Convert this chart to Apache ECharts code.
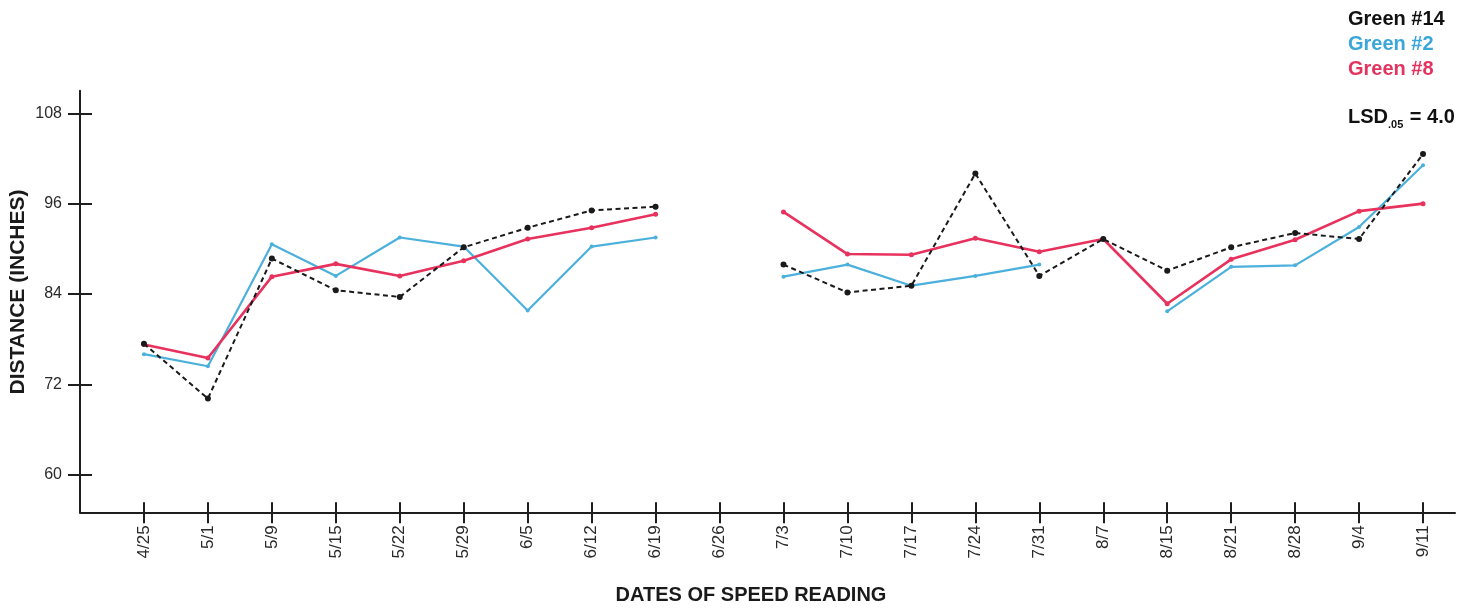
<!DOCTYPE html>
<html>
<head>
<meta charset="utf-8">
<script src="https://cdn.jsdelivr.net/npm/echarts@6/dist/echarts.min.js"></script>
<style>
html,body{margin:0;padding:0;background:#fff;}
#chart{width:1478px;height:610px;}
</style>
</head>
<body>
<div id="chart"></div>
<script>
const dates = ['4/25','5/1','5/9','5/15','5/22','5/29','6/5','6/12','6/19','6/26','7/3','7/10','7/17','7/24','7/31','8/7','8/15','8/21','8/28','9/4','9/11'];
const yTicks = [60, 72, 84, 96, 108];
const seriesNames = ['Green #14', 'Green #2', 'Green #8'];
const green14 = [77.4, 70.1, 88.7, 84.5, 83.6, 90.2, 92.8, 95.1, 95.6, null, 87.9, 84.2, 85.1, 100.0, 86.4, 91.3, 87.1, 90.2, 92.1, 91.3, 102.6];
const green2  = [76.0, 74.4, 90.6, 86.4, 91.5, 90.3, 81.8, 90.3, 91.5, null, 86.3, 87.9, 85.1, 86.4, 87.9, null, 81.7, 87.6, 87.8, 92.9, 101.1];
const green8  = [77.3, 75.5, 86.3, 88.0, 86.4, 88.4, 91.3, 92.8, 94.6, null, 94.9, 89.3, 89.2, 91.4, 89.6, 91.3, 82.7, 88.6, 91.2, 95.0, 96.0];
const lsdLabel = 'LSD';
const lsdSub = '.05';
const lsdValue = '= 4.0';
const xTitle = 'DATES OF SPEED READING';
const yTitle = 'DISTANCE (INCHES)';

const colors = ['#1a1a1a', '#4bb0dc', '#e8325e'];
const textColors = ['#111111', '#3ba6d8', '#e2345f'];
const idx = dates.map((d, i) => i);
const toPairs = arr => arr.map((v, i) => [i, v]);
const FONT = '"Liberation Sans", Arial, Helvetica, sans-serif';

const chart = echarts.init(document.getElementById('chart'), null, {renderer: 'canvas'});
const axisLineStyle = {color: '#1e1e1e', width: 2};
const tickStyle = {color: '#1e1e1e', width: 2};

const option = {
  backgroundColor: '#ffffff',
  animation: false,
  grid: {left: 80, right: 23, top: 90.7, bottom: 97.7, containLabel: false},
  xAxis: [{
    type: 'value', min: -1, max: 20.5,
    axisLine: {show: true, onZero: false, lineStyle: axisLineStyle},
    axisTick: {show: true, length: 11, inside: false, lineStyle: tickStyle, customValues: idx},
    axisLabel: {show: true, rotate: 90, margin: 13, fontSize: 17, color: '#2a2a2a', fontFamily: FONT,
      customValues: idx, formatter: v => dates[Math.round(v)] || ''},
    splitLine: {show: false}
  }, {
    type: 'value', min: -1, max: 20.5, position: 'bottom', offset: 0,
    axisLine: {show: false, onZero: false},
    axisTick: {show: true, length: 10, inside: true, lineStyle: tickStyle, customValues: idx},
    axisLabel: {show: false},
    splitLine: {show: false}
  }],
  yAxis: [{
    type: 'value', min: 55, max: 111, position: 'left',
    axisLine: {show: true, onZero: false, lineStyle: axisLineStyle},
    axisTick: {show: true, length: 12, inside: false, lineStyle: tickStyle, customValues: yTicks},
    axisLabel: {show: true, margin: 18, fontSize: 16, color: '#2a2a2a', fontFamily: FONT, customValues: yTicks},
    splitLine: {show: false}
  }, {
    type: 'value', min: 55, max: 111, position: 'left', offset: 0,
    axisLine: {show: false, onZero: false},
    axisTick: {show: true, length: 12, inside: true, lineStyle: tickStyle, customValues: yTicks},
    axisLabel: {show: false},
    splitLine: {show: false}
  }],
  series: [
    {
      name: seriesNames[1], type: 'line', data: toPairs(green2), connectNulls: false,
      symbol: 'circle', symbolSize: 4, showSymbol: true,
      lineStyle: {color: colors[1], width: 2.2},
      itemStyle: {color: colors[1]}, z: 2
    },
    {
      name: seriesNames[2], type: 'line', data: toPairs(green8), connectNulls: false,
      symbol: 'circle', symbolSize: 5, showSymbol: true,
      lineStyle: {color: colors[2], width: 2.6},
      itemStyle: {color: colors[2]}, z: 3
    },
    {
      name: seriesNames[0], type: 'line', data: toPairs(green14), connectNulls: false,
      symbol: 'circle', symbolSize: 6, showSymbol: true,
      lineStyle: {color: colors[0], width: 2, type: [5, 3.5]},
      itemStyle: {color: colors[0]}, z: 4
    }
  ],
  graphic: [
    {type: 'text', left: 1348, top: 9, style: {text: seriesNames[0], fill: textColors[0], font: 'bold 20px ' + FONT}},
    {type: 'text', left: 1348, top: 34, style: {text: seriesNames[1], fill: textColors[1], font: 'bold 20px ' + FONT}},
    {type: 'text', left: 1348, top: 59, style: {text: seriesNames[2], fill: textColors[2], font: 'bold 20px ' + FONT}},
    {type: 'text', left: 1348, top: 107, style: {
      text: '{a|' + lsdLabel + '}{s|' + lsdSub + '}{a| ' + lsdValue + '}',
      rich: {
        a: {font: 'bold 20px ' + FONT, fill: '#111111', verticalAlign: 'bottom'},
        s: {font: 'bold 11px ' + FONT, fill: '#111111', verticalAlign: 'bottom', padding: [0, 1, -3, 0]}
      }
    }},
    {type: 'text', x: 751, y: 595, style: {text: xTitle, fill: '#1a1a1a', font: 'bold 20px ' + FONT, align: 'center', verticalAlign: 'middle'}},
    {type: 'text', x: 18, y: 292, rotation: Math.PI / 2, style: {text: yTitle, fill: '#1a1a1a', font: 'bold 21px ' + FONT, align: 'center', verticalAlign: 'middle'}}
  ]
};
chart.setOption(option);
</script>
</body>
</html>
